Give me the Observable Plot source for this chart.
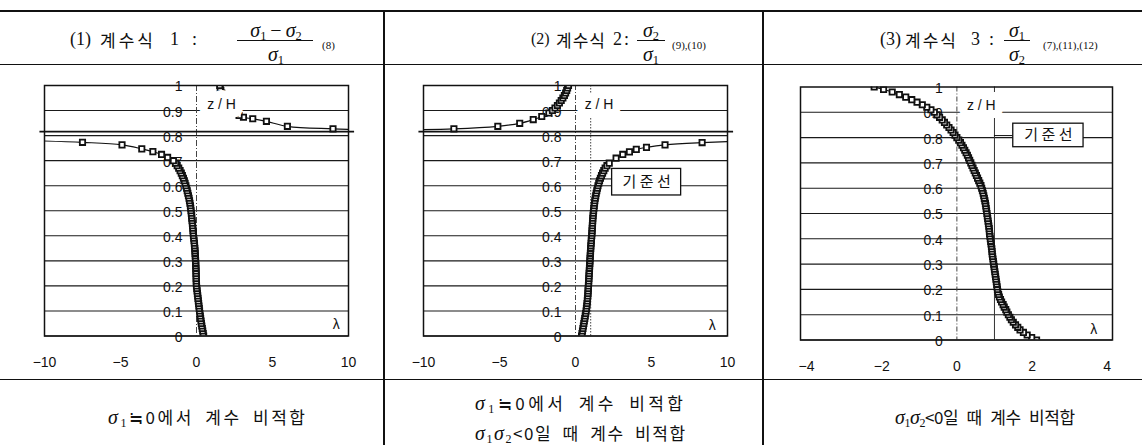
<!DOCTYPE html>
<html><head><meta charset="utf-8">
<script src="https://cdn.jsdelivr.net/npm/d3@7"></script>
<script src="https://cdn.jsdelivr.net/npm/@observablehq/plot@0.6"></script>
<style>
body{margin:0;background:#fff;}
#root{position:relative;width:1142px;height:445px;overflow:hidden;background:#fff;font-family:"Noto Sans CJK KR",sans-serif;color:#111;}
.abs{position:absolute;white-space:nowrap;line-height:1;}
.ln{position:absolute;background:#111;}
.sg{font-family:"Liberation Serif","DejaVu Serif",serif;font-style:italic;}
.sr{font-family:"Liberation Serif","DejaVu Serif",serif;}
.sb{font-family:"Liberation Serif",serif;font-style:normal;font-size:0.62em;position:relative;top:0.28em;}
</style>
</head><body><div id="root"></div>
<script>
// ---------- data ----------
const zTicks = [0,0.1,0.2,0.3,0.4,0.5,0.6,0.7,0.8,0.9,1];
const zTickLabels = ["0","0.1","0.2","0.3","0.4","0.5","0.6","0.7","0.8","0.9","1"];
const xTicks12 = [-10,-5,0,5,10];
const xTicks3 = [-4,-2,0,2,4];
const asymZ = 0.816;

// panel 1 : (σ1-σ2)/σ1
const p1LowerZ = [0,0.01,0.02,0.03,0.04,0.05,0.06,0.07,0.08,0.09,0.10,0.11,0.12,0.13,0.14,0.15,0.16,0.17,0.18,0.19,0.20,0.21,0.22,0.23,0.24,0.25,0.26,0.27,0.28,0.29,0.30,0.31,0.32,0.33,0.34,0.35,0.36,0.37,0.38,0.39,0.40,0.41,0.42,0.43,0.44,0.45,0.46,0.47,0.48,0.49,0.50,0.51,0.52,0.53,0.54,0.55,0.56,0.57,0.58,0.59,0.60,0.61,0.62,0.63,0.64,0.65,0.66,0.67,0.68,0.69,0.70,0.713,0.725,0.736,0.747,0.763,0.773,0.785];
const p1LowerL = [0.47,0.44,0.41,0.38,0.35,0.32,0.30,0.27,0.25,0.22,0.20,0.18,0.16,0.14,0.12,0.10,0.08,0.06,0.04,0.02,0.00,-0.01,-0.01,-0.02,-0.02,-0.03,-0.03,-0.04,-0.05,-0.05,-0.06,-0.07,-0.08,-0.09,-0.10,-0.11,-0.13,-0.14,-0.16,-0.18,-0.20,-0.21,-0.23,-0.24,-0.26,-0.27,-0.29,-0.31,-0.32,-0.34,-0.36,-0.38,-0.40,-0.43,-0.46,-0.49,-0.53,-0.57,-0.61,-0.65,-0.70,-0.75,-0.80,-0.86,-0.93,-1.00,-1.08,-1.17,-1.27,-1.38,-1.52,-1.90,-2.30,-2.87,-3.60,-4.90,-7.50,-14];
const p1UpperZ = [0.82,0.827,0.837,0.857,0.867,0.873,0.88,0.89,0.90,0.91,0.92,0.93,0.94,0.95,0.96,0.97,0.98,0.99,1.00];
const p1UpperL = [14,8.98,5.98,4.60,3.70,3.09,2.80,2.55,2.40,2.25,2.12,2.00,1.90,1.82,1.74,1.66,1.60,1.56,1.53];

// panel 2 : σ2/σ1
const p2LowerZ = [0,0.01,0.02,0.03,0.04,0.05,0.06,0.07,0.08,0.09,0.10,0.11,0.12,0.13,0.14,0.15,0.16,0.17,0.18,0.19,0.20,0.21,0.22,0.23,0.24,0.25,0.26,0.27,0.28,0.29,0.30,0.31,0.32,0.33,0.34,0.35,0.36,0.37,0.38,0.39,0.40,0.41,0.42,0.43,0.44,0.45,0.46,0.47,0.48,0.49,0.50,0.51,0.52,0.53,0.54,0.55,0.56,0.57,0.58,0.59,0.60,0.61,0.62,0.63,0.64,0.65,0.66,0.67,0.68,0.69,0.71,0.725,0.735,0.745,0.753,0.763,0.772,0.785];
const p2LowerL = [0.40,0.43,0.46,0.49,0.52,0.55,0.58,0.61,0.64,0.67,0.70,0.72,0.74,0.76,0.78,0.79,0.81,0.82,0.83,0.84,0.85,0.86,0.87,0.88,0.89,0.90,0.91,0.92,0.93,0.94,0.95,0.96,0.97,0.98,0.99,1.00,1.01,1.03,1.04,1.05,1.07,1.08,1.09,1.10,1.11,1.12,1.13,1.14,1.16,1.17,1.19,1.21,1.23,1.25,1.27,1.30,1.33,1.36,1.40,1.44,1.48,1.53,1.58,1.64,1.71,1.78,1.86,1.95,2.07,2.22,2.67,3.11,3.55,4.00,4.67,5.89,8.33,14];
const p2UpperZ = [0.82,0.827,0.837,0.849,0.864,0.876,0.89,0.90,0.91,0.92,0.93,0.94,0.95,0.96,0.97,0.98,0.99,1.00];
const p2UpperL = [-15,-8.0,-5.11,-3.67,-2.78,-2.22,-1.75,-1.52,-1.35,-1.19,-1.06,-0.94,-0.83,-0.73,-0.65,-0.58,-0.52,-0.46];

// panel 3 : σ1/σ2
const p3Z = [0,0.01,0.02,0.03,0.04,0.05,0.06,0.07,0.08,0.09,0.10,0.11,0.12,0.13,0.14,0.15,0.16,0.17,0.18,0.19,0.20,0.21,0.22,0.23,0.24,0.25,0.26,0.27,0.28,0.29,0.30,0.31,0.32,0.33,0.34,0.35,0.36,0.37,0.38,0.39,0.40,0.41,0.42,0.43,0.44,0.45,0.46,0.47,0.48,0.49,0.50,0.51,0.52,0.53,0.54,0.55,0.56,0.57,0.58,0.59,0.60,0.61,0.62,0.63,0.64,0.65,0.66,0.67,0.68,0.69,0.70,0.71,0.72,0.73,0.74,0.75,0.76,0.77,0.78,0.79,0.80,0.81,0.82,0.83,0.84,0.85,0.86,0.87,0.88,0.89,0.90,0.91,0.92,0.93,0.94,0.95,0.96,0.97,0.98,0.99,1.00];
const p3L = [2.12,1.99,1.87,1.77,1.68,1.62,1.56,1.50,1.45,1.41,1.37,1.33,1.30,1.26,1.23,1.19,1.16,1.13,1.11,1.09,1.08,1.07,1.06,1.05,1.04,1.03,1.02,1.01,1.00,0.99,0.98,0.97,0.96,0.95,0.94,0.935,0.93,0.92,0.91,0.90,0.89,0.88,0.87,0.865,0.86,0.85,0.84,0.83,0.82,0.81,0.80,0.79,0.78,0.77,0.76,0.745,0.73,0.715,0.70,0.68,0.66,0.64,0.61,0.58,0.55,0.52,0.49,0.46,0.43,0.40,0.37,0.34,0.31,0.28,0.245,0.21,0.175,0.135,0.095,0.05,0.00,-0.05,-0.10,-0.155,-0.21,-0.27,-0.33,-0.39,-0.46,-0.53,-0.60,-0.69,-0.80,-0.92,-1.06,-1.20,-1.36,-1.53,-1.72,-1.95,-2.20];

// ---------- helpers ----------
const root = document.getElementById("root");
function pts(zs, ls){ return zs.map((z,i)=>({z, l: ls[i]})); }
function put(html, x, y, style=""){ const d=document.createElement("div"); d.className="abs"; d.style.cssText=`left:${x}px;top:${y}px;transform:translateY(-50%);${style}`; d.innerHTML=html; root.appendChild(d); return d; }
function putC(html, cx, y, style=""){ const d=put(html, cx, y, style); d.style.transform="translate(-50%,-50%)"; return d; }
function hl(x,y,w,t){ const d=document.createElement("div"); d.className="ln"; d.style.cssText=`left:${x}px;top:${y-t/2}px;width:${w}px;height:${t}px`; root.appendChild(d); }
function vl(x,y,h,t){ const d=document.createElement("div"); d.className="ln"; d.style.cssText=`left:${x-t/2}px;top:${y}px;width:${t}px;height:${h}px`; root.appendChild(d); }
function fit(el, target){ // spread letters so the text spans the measured width
  el.style.letterSpacing = "0px";
  const w = el.getBoundingClientRect().width;
  const n = Math.max(1, el.textContent.length - 1);
  el.style.letterSpacing = ((target - w) / n) + "px";
}

function panel(cfg){
  const marks = [];
  marks.push(Plot.ruleY(zTicks.filter(z=>z<1), {stroke:"#1a1a1a", strokeWidth:1.1}));
  for (const r of cfg.refs) marks.push(Plot.ruleX([r.x], {stroke:r.stroke, strokeWidth:r.w, strokeDasharray:r.dash}));
  if (cfg.asymX) marks.push(Plot.ruleY([{z:asymZ, a:cfg.asymX[0], b:cfg.asymX[1]}], {y:"z", x1:"a", x2:"b", stroke:"#111", strokeWidth:1.8}));
  marks.push(Plot.text(zTicks.map((z,i)=>({z, t:zTickLabels[i]})), {x:()=>0, y:"z", text:"t", textAnchor:"end", dx:-14, dy:1.5, fontSize:14, fill:"#111"}));
  for (const s of cfg.series){
    marks.push(Plot.line(s, {x:"l", y:"z", curve:"catmull-rom", stroke:"#111", strokeWidth:1.2, clip:true}));
    marks.push(Plot.dot(s, {x:"l", y:"z", symbol:"square", r:3, stroke:"#111", strokeWidth:1.8, fill:"white", clip:true}));
  }
  marks.push(Plot.frame({stroke:"#111", strokeWidth:1.5}));
  marks.push(Plot.text([cfg.zh], {x:"l", y:"z", text:()=>"z / H", fontSize:14, fill:"#111", stroke:"white", strokeWidth:16}));
  marks.push(Plot.text([cfg.lam], {x:"l", y:"z", text:()=>"λ", fontSize:14, fill:"#111"}));
  if (cfg.box){
    const b = cfg.box;
    marks.push(Plot.ruleY([{z:b.cz, a:1, b:b.x1}], {y:"z", x1:"a", x2:"b", stroke:"#111", strokeWidth:1}));
    marks.push(Plot.rect([b], {x1:"x1", x2:"x2", y1:"y1", y2:"y2", fill:"white", stroke:"#111", strokeWidth:1.3}));
    marks.push(Plot.text([b], {x:d=>(d.x1+d.x2)/2, y:d=>(d.y1+d.y2)/2, text:()=>"기 준 선", fontSize:15, fontFamily:"Noto Sans CJK KR", fill:"#111"}));
  }
  const svg = Plot.plot({
    width: cfg.width, height: 313,
    marginLeft: cfg.ml, marginRight: cfg.mr, marginTop: cfg.mt, marginBottom: cfg.mb,
    x: {domain: cfg.xd, ticks: cfg.xt, tickSize: 0, tickPadding: 21, label: null},
    y: {domain: [0,1], axis: null},
    style: {fontFamily: "'Liberation Sans', Arial, sans-serif", fontSize: "14px", color: "#111", background: "transparent", overflow: "visible"},
    marks
  });
  svg.style.position = "absolute";
  svg.style.left = cfg.left + "px";
  svg.style.top = "66px";
  root.appendChild(svg);
}

panel({left:0, width:383, ml:44, mr:35, mt:19, mb:43.5, xd:[-10,10], xt:xTicks12,
  refs:[{x:0, stroke:"#444", w:1, dash:"6,2,1,2"}], asymX:[-10.3,10.4],
  series:[pts(p1LowerZ,p1LowerL), pts(p1UpperZ,p1UpperL)],
  zh:{l:1.65, z:0.923}, lam:{l:9.2, z:0.045}});
panel({left:385, width:377, ml:38, mr:35, mt:19, mb:43.5, xd:[-10,10], xt:xTicks12,
  refs:[{x:0, stroke:"#444", w:1, dash:"5,2,1,2"}, {x:1, stroke:"#444", w:1, dash:"1.5,1.5"}], asymX:[-10.3,10.4],
  series:[pts(p2LowerZ,p2LowerL), pts(p2UpperZ,p2UpperL)],
  zh:{l:1.55, z:0.923}, lam:{l:9.0, z:0.04},
  box:{x1:2.41, x2:6.95, y1:0.561, y2:0.667, cz:0.627}});
panel({left:764, width:378, ml:36, mr:30, mt:20.5, mb:39.5, xd:[-4.16,4.14], xt:xTicks3,
  refs:[{x:0, stroke:"#444", w:1, dash:"5,2,1,2"}, {x:1, stroke:"#333", w:1, dash:null}], asymX:null,
  series:[pts(p3Z,p3L)],
  zh:{l:0.65, z:0.926}, lam:{l:3.64, z:0.04},
  box:{x1:1.5, x2:3.37, y1:0.762, y2:0.855, cz:0.808}});

// ---------- table lines ----------
hl(0, 11, 1142, 2.2);
hl(0, 64.5, 1142, 1.3);
hl(0, 379.8, 1142, 1.3);
vl(384, 11, 434, 1.2);
vl(763, 11, 434, 1.2);

// ---------- headers ----------
const K = "font-size:17px;";
const SR = "font-size:18px;font-family:'Liberation Serif',serif;";
function header(tokens, frac, ref){
  for (const t of tokens) put(t.h, t.x, 39, t.s);
  putC(frac.num, frac.cx, 29, "font-size:20px;");
  hl(frac.x0, 40.5, frac.w, 1.3);
  putC(frac.den, frac.cx, 53, "font-size:20px;");
  put(ref.h, ref.x, 45, "font-size:11px;font-family:'Liberation Serif',serif;");
}
const sg = (n)=>`<span class="sg">σ</span><span class="sb">${n}</span>`;
header([{h:"(1)",x:70,s:SR},{h:"계수식",x:100,s:K+"letter-spacing:3px;"},{h:"1",x:170,s:SR},{h:":",x:192,s:SR}],
  {num: sg(1)+"<span class='sr'>&thinsp;−&thinsp;</span>"+sg(2), den: sg(1), cx:276, x0:237, w:76}, {h:"(8)", x:322});
header([{h:"(2)",x:531,s:SR+"font-size:16px;"},{h:"계수식",x:556,s:K+"letter-spacing:1px;"},{h:"2",x:613,s:SR},{h:":",x:624,s:SR}],
  {num: sg(2), den: sg(1), cx:651, x0:637, w:28}, {h:"(9),(10)", x:672});
header([{h:"(3)",x:880,s:SR},{h:"계수식",x:905,s:K+"letter-spacing:2px;"},{h:"3",x:971,s:SR},{h:":",x:989,s:SR}],
  {num: sg(1), den: sg(2), cx:1017, x0:1004, w:26}, {h:"(7),(11),(12)", x:1043});

// ---------- footers ----------
const F = "font-size:17px;word-spacing:5px;";
const sgF = (n)=>`<span class="sg" style="font-size:20px">σ</span><span class="sb" style="font-size:12px">${n}</span>`;
fit(put(sgF(1)+"≒0에서 계수 비적합", 108, 417, F), 197);
fit(put(sgF(1)+"≒0에서 계수 비적합", 475, 403, F), 208);
fit(put(sgF(1)+sgF(2)+"&lt;0일 때 계수 비적합", 475, 433, F), 210);
fit(put(sgF(1)+sgF(2)+"&lt;0일 때 계수 비적합", 895, 417, F), 180);
</script></body></html>
